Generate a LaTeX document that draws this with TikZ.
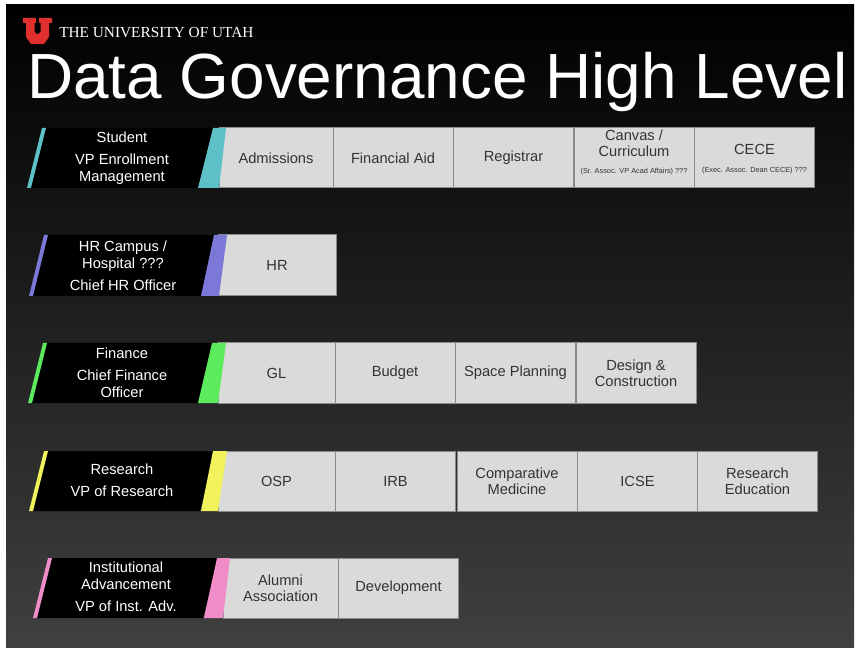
\documentclass[tikz,border=0pt]{standalone}
\usepackage{fontspec}
\setmainfont{Liberation Sans}
\newfontfamily\utahfont{Liberation Serif}
\newcommand{\notesize}{\fontsize{5.5}{6}\selectfont}
\definecolor{utahred}{HTML}{E0302E}
\definecolor{boxgray}{HTML}{DADADA}
\definecolor{boxline}{HTML}{8A8A8A}
\definecolor{boxtext}{HTML}{333333}
\definecolor{slidebot}{HTML}{404040}
\definecolor{studcol}{HTML}{5DBFC7}
\definecolor{hrcol}{HTML}{7B78D8}
\definecolor{fincol}{HTML}{5CEB5C}
\definecolor{rescol}{HTML}{F2F25C}
\definecolor{advcol}{HTML}{F08CC8}

\begin{document}
\begin{tikzpicture}[x=0.75pt, y=-0.75pt,
		deptbox/.style={rectangle, draw=boxline, fill=boxgray, line width=0.75pt, minimum width=90pt, minimum height=45pt, inner sep=1pt, align=center, text=boxtext, font=\fontsize{11}{12}\selectfont},
		headtext/.style={align=center, text=white, inner sep=0pt, font=\fontsize{11}{12.75}\selectfont}]
		\useasboundingbox (0,0) rectangle (856,648);
		\fill[white] (0,0) rectangle (856,648);
		\shade[top color=black, bottom color=slidebot] (6,5) rectangle (854,648);

		\fill[utahred] (23,18) -- (36,18) -- (36,23) -- (34.5,23) -- (34.5,32) -- (37.5,34.5) -- (40.5,32) -- (40.5,23) -- (39,23) -- (39,18) -- (52,18) -- (52,23) -- (49,23) -- (49,37) -- (44,44) -- (31,44) -- (26,37) -- (26,23) -- (23,23) -- cycle;
		\node[anchor=base west, inner sep=0pt, text=white, font=\utahfont\fontsize{11.5}{12}\selectfont] (univ) at (59,38) {THE UNIVERSITY OF UTAH};
		\node[anchor=base west, inner sep=0pt, text=white, font=\fontsize{47.9}{50}\selectfont] (title) at (27,99) {Data Governance High Level};

		\fill[black] (44,128) -- (214,128) -- (199,188) -- (29,188) -- cycle;
		\fill[studcol] (42,128) -- (46,128) -- (31,188) -- (27,188) -- cycle;
		\node[headtext] (student) at (122,158) {Student\\[3.75pt]VP Enrollment\\Management};
		\node[deptbox, minimum width=85.5pt] (adm) at (276,158) {Admissions};
		\node[deptbox] (finaid) at (393,158) {Financial Aid};
		\node[deptbox] (reg) at (513.5,158) {Registrar};
		\node[deptbox, text depth=10pt] (canvas) at (634,158) {Canvas /\\Curriculum\\[0.75pt]{\notesize (Sr. Assoc. VP Acad Affairs) ???}};
		\node[deptbox, text depth=0pt] (cece) at (754.5,158) {CECE\\[1.5pt]{\notesize (Exec. Assoc. Dean CECE) ???}};
		\fill[studcol] (213,128) -- (226,128) -- (219,188) -- (198,188) -- cycle;

		\fill[black] (46,235) -- (216,235) -- (201,296) -- (31,296) -- cycle;
		\fill[hrcol] (44,235) -- (48,235) -- (33,296) -- (29,296) -- cycle;
		\node[headtext] (hrhead) at (123,265.5) {HR Campus /\\Hospital ???\\[3.75pt]Chief HR Officer};
		\node[deptbox, minimum width=88.5pt, minimum height=45.75pt] (hr) at (277,265.5) {HR};
		\fill[hrcol] (214,235) -- (227,235) -- (219,296) -- (201,296) -- cycle;

		\fill[black] (45,343) -- (214,343) -- (199,403) -- (30,403) -- cycle;
		\fill[fincol] (43,343) -- (47,343) -- (32,403) -- (28,403) -- cycle;
		\node[headtext] (finance) at (122,373) {Finance\\[3.75pt]Chief Finance\\Officer};
		\node[deptbox, minimum width=87.75pt] (gl) at (276.5,373) {GL};
		\node[deptbox] (budget) at (395,373) {Budget};
		\node[deptbox] (space) at (515.5,373) {Space Planning};
		\node[deptbox] (design) at (636,373) {Design \&\\Construction};
		\fill[fincol] (212,343) -- (226,343) -- (218,403) -- (198,403) -- cycle;

		\fill[black] (46,451) -- (215,451) -- (200,511) -- (31,511) -- cycle;
		\fill[rescol] (44,451) -- (48,451) -- (33,511) -- (29,511) -- cycle;
		\node[headtext] (research) at (122,480) {Research\\[3.75pt]VP of Research};
		\node[deptbox, minimum width=87.75pt] (osp) at (276.5,481) {OSP};
		\node[deptbox] (irb) at (395.5,481) {IRB};
		\node[deptbox] (compmed) at (517,481) {Comparative\\Medicine};
		\node[deptbox] (icse) at (637.5,481) {ICSE};
		\node[deptbox] (resedu) at (757.5,481) {Research\\Education};
		\fill[rescol] (213,451) -- (227,451) -- (218,511) -- (201,511) -- cycle;

		\fill[black] (50,558) -- (218,558) -- (203,618) -- (35,618) -- cycle;
		\fill[advcol] (48,558) -- (52,558) -- (37,618) -- (33,618) -- cycle;
		\node[headtext] (instadv) at (126,587) {Institutional\\Advancement\\[3.75pt]VP of Inst. Adv.};
		\node[deptbox, minimum width=86.25pt] (alumni) at (280.5,588) {Alumni\\Association};
		\node[deptbox] (dev) at (398.5,588) {Development};
		\fill[advcol] (217,558) -- (230,558) -- (223,618) -- (204,618) -- cycle;
	\end{tikzpicture}
\end{document}
